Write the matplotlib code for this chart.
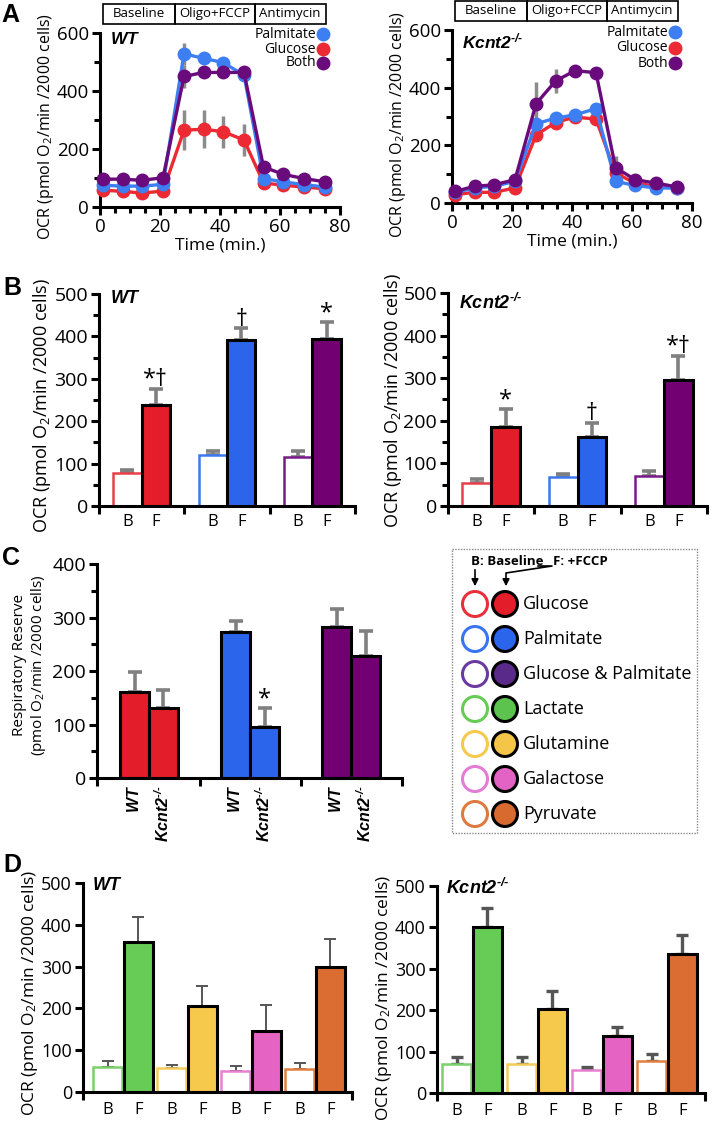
import matplotlib
matplotlib.use('Agg')
import matplotlib.pyplot as plt
from matplotlib.patches import Rectangle, Circle
import numpy as np

plt.rcParams['font.family'] = ['Open Sans', 'DejaVu Sans']
plt.rcParams['mathtext.fontset'] = 'custom'
plt.rcParams['mathtext.rm'] = 'Open Sans'
plt.rcParams['mathtext.it'] = 'Open Sans:italic'
plt.rcParams['mathtext.bf'] = 'Liberation Sans:italic:bold'

# ---------------- data ----------------
# panel A: OCR traces
time_min = [1, 7.5, 14, 21, 28, 34.5, 41, 48, 54.5, 61, 68, 75]
wt_palm = [75, 72, 72, 78, 528, 513, 498, 455, 98, 87, 77, 69]
wt_gluc = [58, 54, 48, 55, 265, 268, 260, 231, 83, 75, 69, 63]
wt_both = [96, 96, 92, 101, 450, 464, 464, 464, 138, 113, 98, 87]
wt_palm_err = [0, 0, 0, 0, 38, 0, 0, 0, 0, 0, 0, 0]
wt_gluc_err = [0, 0, 0, 0, 70, 65, 55, 55, 0, 0, 0, 0]
wt_both_err = [0, 0, 0, 0, 40, 0, 0, 0, 0, 0, 0, 0]
ko_palm = [37, 52, 58, 75, 275, 294, 306, 327, 75, 61, 52, 52]
ko_gluc = [29, 37, 37, 52, 236, 279, 298, 291, 104, 69, 58, 52]
ko_both = [40, 58, 63, 81, 344, 423, 459, 452, 123, 81, 69, 56]
ko_palm_err = [0, 0, 0, 0, 0, 0, 0, 0, 0, 0, 0, 0]
ko_gluc_err = [0, 0, 0, 0, 0, 0, 0, 0, 0, 0, 0, 0]
ko_both_err = [0, 0, 0, 0, 76, 43, 0, 0, 40, 0, 0, 0]
trace_names = ['Palmitate', 'Glucose', 'Both']
phases = ['Baseline', 'Oligo+FCCP', 'Antimycin']
phase_edges = [1, 25, 51.5, 75.3]

# panel B: baseline (B) vs FCCP (F)
b_wt_base = [77, 120, 115]
b_wt_base_err = [8, 10, 15]
b_wt_fccp = [238, 392, 394]
b_wt_fccp_err = [39, 27, 41]
b_wt_marks = ['*\u2020', '\u2020', '*']
b_ko_base = [55, 67, 71]
b_ko_base_err = [8, 8, 10]
b_ko_fccp = [185, 163, 296]
b_ko_fccp_err = [42, 33, 57]
b_ko_marks = ['*', '\u2020', '*\u2020']

# panel C: respiratory reserve
c_wt = [161, 272, 283]
c_wt_err = [38, 21, 33]
c_ko = [130, 96, 228]
c_ko_err = [34, 34, 47]
c_ko_marks = ['', '*', '']

# panel D: other substrates
d_wt_base = [60, 57, 50, 55]
d_wt_base_err = [13, 8, 12, 15]
d_wt_fccp = [359, 206, 147, 300]
d_wt_fccp_err = [60, 47, 61, 66]
d_ko_base = [70, 70, 56, 78]
d_ko_base_err = [18, 17, 8, 16]
d_ko_fccp = [400, 203, 138, 336]
d_ko_fccp_err = [48, 43, 21, 46]

legend_names = ['Glucose', 'Palmitate', 'Glucose & Palmitate', 'Lactate',
                'Glutamine', 'Galactose', 'Pyruvate']

# ---------------- colours ----------------
trace_colors = ['#3d7ef3', '#ec2a33', '#6a0b7c']
abc_fill = ['#e31e2a', '#2b65ec', '#720073']
abc_edge = ['#e8404a', '#3a78f0', '#7a1a8a']
d_fill = ['#66cc55', '#f6c94c', '#e563c2', '#db6d33']
d_edge = ['#7ad06a', '#f5cc5a', '#e680d0', '#e08040']
leg_open = ['#e8303a', '#3a75f0', '#6a3aa0', '#66cc55', '#f5c850', '#e37cd5', '#de7a40']
leg_fill = ['#e31e2a', '#2b65ec', '#5a2a8a', '#5cc34e', '#f5c54a', '#e363c4', '#d8692f']

WT = r'$\mathbf{WT}$'
KO = '$\\mathbf{Kcnt2}^{\\mathbf{\u2010/\u2010}}$'
YLAB = r'OCR (pmol O$_2$/min /2000 cells)'

W, H = 714, 1134
fig = plt.figure(figsize=(W / 100, H / 100), dpi=100)


def px_axes(x0, y0, x1, y1):
    return fig.add_axes([x0 / W, 1 - y1 / H, (x1 - x0) / W, (y1 - y0) / H])


def style_axes(ax, lw=2.2, tick_fs=14):
    for s in ['top', 'right']:
        ax.spines[s].set_visible(False)
    for s in ['left', 'bottom']:
        ax.spines[s].set_linewidth(lw)
        ax.spines[s].set_capstyle('projecting')
    ax.tick_params(which='major', width=lw, length=6, direction='out', labelsize=tick_fs, pad=2)
    ax.tick_params(which='minor', width=lw, length=4, direction='out')


def fig_ylabel(x, y, txt, fs):
    fig.text(x / W, 1 - y / H, txt, rotation=90, ha='center', va='center', fontsize=fs)


# ---------------- panel A ----------------
def draw_trace(ax, series, errs, tag, leg_x, leg_y):
    style_axes(ax, tick_fs=13.5)
    ax.set_xlim(0, 80)
    ax.set_ylim(0, 600)
    ax.set_xticks([0, 20, 40, 60, 80])
    ax.set_xticks(np.arange(0, 81, 5), minor=True)
    ax.set_yticks([0, 200, 400, 600])
    ax.set_yticks([100, 300, 500], minor=True)
    order = [1, 0, 2]
    for i in order:
        ax.errorbar(time_min, series[i], yerr=errs[i], fmt='none', ecolor='#8c8c8c',
                    elinewidth=2.5, zorder=1, clip_on=False)
    for i in order:
        ax.plot(time_min, series[i], '-o', color=trace_colors[i], lw=2.4, ms=9,
                zorder=3, clip_on=False)
    ax.set_xlabel('Time (min.)', fontsize=12.5, labelpad=1)
    ax.text(0.04, 0.96 if tag == WT else 0.93, tag, transform=ax.transAxes,
            fontsize=12.5, ha='left', va='center')
    for k, name in enumerate(trace_names):
        ax.text(leg_x - 0.03, leg_y[k], name, transform=ax.transAxes, ha='right',
                va='center', fontsize=10)
        ax.plot([leg_x], [leg_y[k]], 'o', color=trace_colors[k], ms=9,
                transform=ax.transAxes, clip_on=False)
    # protocol box
    for k, ph in enumerate(phases):
        x0, x1 = phase_edges[k], phase_edges[k + 1]
        ax.add_patch(Rectangle((x0, 632), x1 - x0, 68, fill=False, lw=1.2,
                               ec='black', clip_on=False))
        ax.text((x0 + x1) / 2, 666, ph, ha='center', va='center', fontsize=9.5)


axA1 = px_axes(100, 33, 340, 207)
draw_trace(axA1, [wt_palm, wt_gluc, wt_both], [wt_palm_err, wt_gluc_err, wt_both_err],
           WT, 0.93, [0.994, 0.908, 0.828])
axA2 = px_axes(452, 30, 692, 203)
draw_trace(axA2, [ko_palm, ko_gluc, ko_both], [ko_palm_err, ko_gluc_err, ko_both_err],
           KO, 0.93, [0.988, 0.896, 0.809])
fig_ylabel(46, 127, YLAB, 11.5)
fig_ylabel(398, 125, YLAB, 11.5)


# ---------------- bar helper ----------------
def draw_pair(ax, xb, xf, vb, eb, vf, ef, b_filled, fill_b, edge_b, fill_f, width,
              err_col, err_lw, cap, lw_b=1.8, lw_f=2.2):
    zb = np.zeros(len(vb))
    ax.errorbar(xb, vb, yerr=[zb, eb], fmt='none', ecolor=err_col, elinewidth=err_lw,
                capsize=cap, capthick=err_lw, zorder=1)
    ax.errorbar(xf, vf, yerr=[zb, ef], fmt='none', ecolor=err_col, elinewidth=err_lw,
                capsize=cap, capthick=err_lw, zorder=1)
    if b_filled:
        ax.bar(xb, vb, width=width, color=fill_b, edgecolor='black', lw=lw_f, zorder=2)
    else:
        ax.bar(xb, vb, width=width, color='white', edgecolor=edge_b, lw=lw_b, zorder=2)
    ax.bar(xf, vf, width=width, color=fill_f, edgecolor='black', lw=lw_f, zorder=3)


# ---------------- panel B ----------------
def draw_b(ax, vb, eb, vf, ef, marks, tag):
    style_axes(ax)
    ax.set_xlim(0, 9)
    ax.set_ylim(0, 500)
    ax.set_yticks(np.arange(0, 501, 100))
    ax.set_yticks(np.arange(50, 500, 100), minor=True)
    xb = np.arange(3) * 3 + 1
    xf = xb + 1
    draw_pair(ax, xb, xf, vb, eb, vf, ef, False, None, abc_edge, abc_fill, 1.0,
              '#808080', 2.6, 5)
    ax.set_xticks([0, 3, 6, 9])
    ax.set_xticklabels([])
    ax.set_xticks(list(np.concatenate([xb, xf])), minor=True)
    ax.set_xticklabels(['B'] * 3 + ['F'] * 3, minor=True, fontsize=12)
    ax.tick_params(axis='x', which='minor', length=0, pad=6)
    for x, v, e, m in zip(xf, vf, ef, marks):
        if m:
            ax.text(x, v + e + 6, m, ha='center', va='baseline', fontsize=17)
    ax.text(0.043, 0.98 if tag == WT else 0.953, tag, transform=ax.transAxes,
            fontsize=13, ha='left', va='center')


axB1 = px_axes(99, 294, 355, 506)
draw_b(axB1, b_wt_base, b_wt_base_err, b_wt_fccp, b_wt_fccp_err, b_wt_marks, WT)
axB2 = px_axes(448, 293, 707, 506)
draw_b(axB2, b_ko_base, b_ko_base_err, b_ko_fccp, b_ko_fccp_err, b_ko_marks, KO)
fig_ylabel(42, 405, YLAB, 13)
fig_ylabel(393, 400, YLAB, 13)

# ---------------- panel C ----------------
axC = px_axes(97, 564, 402, 778)
style_axes(axC)
axC.set_xlim(0, 10.55)
axC.set_ylim(0, 400)
axC.set_yticks(np.arange(0, 401, 100))
axC.set_yticks(np.arange(50, 400, 100), minor=True)
xc_wt = np.arange(3) * 3.5 + 1.3
xc_ko = xc_wt + 1
zc = np.zeros(3)
axC.errorbar(xc_wt, c_wt, yerr=[zc, c_wt_err], fmt='none', ecolor='#808080', elinewidth=2.6,
             capsize=5, capthick=2.6, zorder=1)
axC.errorbar(xc_ko, c_ko, yerr=[zc, c_ko_err], fmt='none', ecolor='#808080', elinewidth=2.6,
             capsize=5, capthick=2.6, zorder=1)
axC.bar(xc_wt, c_wt, width=1.0, color=abc_fill, edgecolor='black', lw=2.2, zorder=2)
axC.bar(xc_ko, c_ko, width=1.0, color=abc_fill, edgecolor='black', lw=2.2, zorder=3)
for x, v, e, m in zip(xc_ko, c_ko, c_ko_err, c_ko_marks):
    if m:
        axC.text(x, v + e + 5, m, ha='center', va='baseline', fontsize=17)
axC.set_xticks([0, 3.55, 7.05, 10.55])
axC.set_xticklabels([])
axC.set_xticks(list(np.concatenate([xc_wt, xc_ko])), minor=True)
axC.set_xticklabels([WT] * 3 + [KO] * 3, minor=True, fontsize=11.5, rotation=90)
axC.tick_params(axis='x', which='minor', length=0, pad=5)
fig_ylabel(30, 665, 'Respiratory Reserve\n' + r'(pmol O$_2$/min /2000 cells)', 11)

# legend box
axL = px_axes(452, 549, 697, 833)
axL.set_xlim(452, 697)
axL.set_ylim(833, 549)
axL.axis('off')
axL.add_patch(Rectangle((452, 549), 245, 284, fill=False, ls=(0, (1, 1)), lw=1,
                        ec='#888888', clip_on=False))
axL.text(471, 561, 'B: Baseline', fontsize=9.5, fontweight='bold', ha='left', va='center')
axL.text(553, 561, 'F: +FCCP', fontsize=9.5, fontweight='bold', ha='left', va='center')
axL.annotate('', xy=(475, 589), xytext=(475, 567),
             arrowprops=dict(arrowstyle='-|>', color='black', lw=1.2, mutation_scale=10))
axL.plot([538, 552, 506, 506], [566, 566, 573, 578], color='black', lw=1.2)
axL.annotate('', xy=(506, 589), xytext=(506, 576),
             arrowprops=dict(arrowstyle='-|>', color='black', lw=1.2, mutation_scale=10))
for k, name in enumerate(legend_names):
    yy = 604 + 35 * k
    axL.add_patch(Circle((475, yy), 12.5, facecolor='white', edgecolor=leg_open[k], lw=2.2))
    axL.add_patch(Circle((505, yy), 12.5, facecolor=leg_fill[k], edgecolor='black', lw=2.2))
    axL.text(523, yy, name, fontsize=13, ha='left', va='center')


# ---------------- panel D ----------------
def draw_d(ax, vb, eb, vf, ef, tag, off, period, xmax, err_lw):
    style_axes(ax, tick_fs=13)
    ax.set_xlim(0, xmax)
    ax.set_ylim(0, 500)
    ax.set_yticks(np.arange(0, 501, 100))
    xb = off + 0.5 + period * np.arange(4)
    xf = xb + 1.04
    draw_pair(ax, xb, xf, vb, eb, vf, ef, False, None, d_edge, d_fill, 0.97,
              '#555555', err_lw, 4)
    ax.set_xticks([0, xmax])
    ax.set_xticklabels([])
    ax.set_xticks(list(np.concatenate([xb, xf])), minor=True)
    ax.set_xticklabels(['B'] * 4 + ['F'] * 4, minor=True, fontsize=12)
    ax.tick_params(axis='x', which='minor', length=0, pad=7)
    ax.text(0.033, 0.99, tag, transform=ax.transAxes, fontsize=13, ha='left', va='center')


axD1 = px_axes(83, 883, 352, 1092)
draw_d(axD1, d_wt_base, d_wt_base_err, d_wt_fccp, d_wt_fccp_err, WT, 0.34, 2.17, 9.12, 1.4)
axD2 = px_axes(437, 886, 705, 1093)
draw_d(axD2, d_ko_base, d_ko_base_err, d_ko_fccp, d_ko_fccp_err, KO, 0.17, 2.2, 9.08, 2.4)
fig_ylabel(30, 993, YLAB, 12.5)
fig_ylabel(384, 998, YLAB, 12.5)

# panel letters
for lt, (lx, ly) in zip('ABCD', [(10, 15), (12, 288), (11, 558), (12, 865)]):
    fig.text(lx / W, 1 - ly / H, lt, fontsize=18, fontweight='bold', ha='center', va='center',
             family='Liberation Sans')

fig.savefig('out.png', dpi=100)
